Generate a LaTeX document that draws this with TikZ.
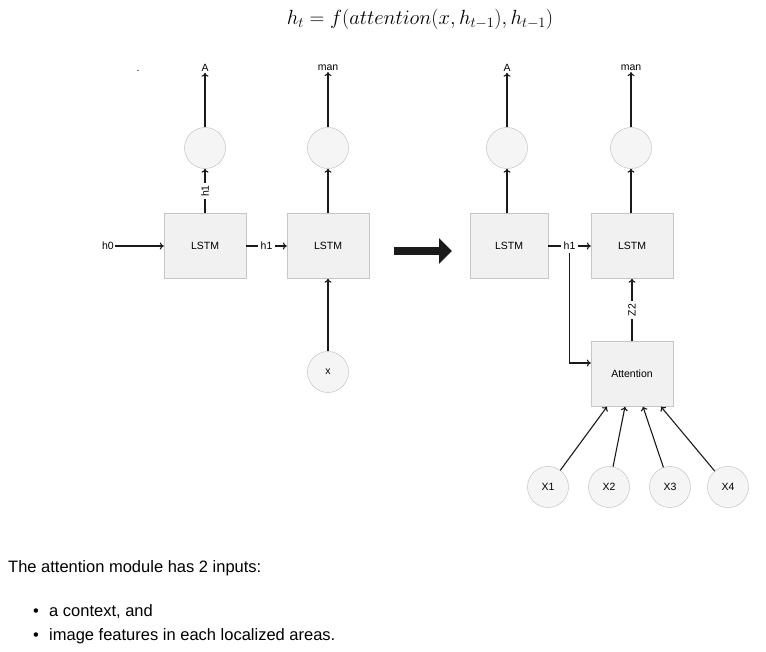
\documentclass[tikz,border=0pt]{standalone}
\usepackage{fix-cm}
\usepackage{fontspec}
\setmainfont{Liberation Sans}
\usepackage{tikz}
\usetikzlibrary{arrows.meta}

\definecolor{boxfill}{HTML}{F1F1F1}
\definecolor{boxline}{HTML}{C6C6C6}
\definecolor{circfill}{HTML}{F5F5F5}
\definecolor{circline}{HTML}{B9B9B9}
\definecolor{ink}{HTML}{1A1A1A}

\begin{document}
\begin{tikzpicture}[x=1pt, y=-1pt]
		\tikzstyle{cell} = [rectangle, draw=boxline, fill=boxfill, minimum width=82pt, minimum height=65pt, inner sep=0pt, font=\fontsize{10.5}{12}\selectfont]
		\tikzstyle{unit} = [circle, draw=circline, fill=circfill, minimum size=41pt, inner sep=0pt, font=\fontsize{10.5}{12}\selectfont]
		\tikzstyle{word} = [inner sep=1pt, font=\fontsize{10.5}{12}\selectfont]
		\tikzstyle{tag} = [fill=white, inner sep=2.5pt, font=\fontsize{10.5}{12}\selectfont]
		\tikzstyle{flow} = [draw=ink, line width=1.1pt, -{To[length=4pt, width=7pt]}]
		\tikzstyle{body} = [inner sep=0pt, anchor=base west, font=\fontsize{16.5}{20}\selectfont]
		
		\useasboundingbox (0,0) rectangle (766,651);
		
		\node [font=\fontsize{20.5}{24}\selectfont] (eq) at (420,19) {$h_t = f(attention(x,h_{t-1}),h_{t-1})$};
		\node [word] (dot) at (138,71) {.};
		
		% before
		\node [cell] (L1) at (205,246) {LSTM};
		\node [cell] (L2) at (328,246) {LSTM};
		\node [unit] (U1) at (205,148) {};
		\node [unit] (U2) at (328,148) {};
		\node [unit] (x) at (328,372) {x};
		\node [word] (A1) at (205,68) {A};
		\node [word] (M1) at (328,68) {man};
		\node [word] (h0) at (108,246) {h0};
		
		\draw [flow] (h0) -- (L1);
		\draw [flow] (L1) -- node [tag] {h1} (L2);
		\draw [flow] (L1) -- node [tag, rotate=90] {h1} (U1);
		\draw [flow] (L2) -- (U2);
		\draw [flow] (x) -- (L2);
		\draw [flow] (U1) -- (A1);
		\draw [flow] (U2) -- (M1);
		
		% big arrow
		\coordinate (go) at (394,251);
		\coordinate (to) at (452,251);
		\draw [ink, line width=8pt, -{Triangle[length=13pt, width=25pt]}] (go) -- (to);
		
		% after
		\node [cell, minimum width=78pt] (L3) at (509,246) {LSTM};
		\node [cell] (L4) at (632,246) {LSTM};
		\node [cell] (Att) at (632,374) {Attention};
		\node [unit] (U3) at (507,148) {};
		\node [unit] (U4) at (631,148) {};
		\node [word] (A2) at (507,68) {A};
		\node [word] (M2) at (631,68) {man};
		
		\draw [flow] (L3) -- node [tag] (h1c) {h1} (L4);
		\draw [flow] (h1c.south) |- ([yshift=11pt]Att.west);
		\draw [flow] (Att) -- node [tag, rotate=90] {Z2} (L4);
		\draw [flow] (L3.north -| U3) -- (U3);
		\draw [flow] (L4.north -| U4) -- (U4);
		\draw [flow] (U3) -- (A2);
		\draw [flow] (U4) -- (M2);
		
		\node [unit] (X1) at (548,487) {X1};
		\node [unit] (X2) at (609,487) {X2};
		\node [unit] (X3) at (670,487) {X3};
		\node [unit] (X4) at (728,487) {X4};
		
		\draw [flow] (X1) -- ([xshift=-25pt]Att.south);
		\draw [flow] (X2) -- ([xshift=-7pt]Att.south);
		\draw [flow] (X3) -- ([xshift=11pt]Att.south);
		\draw [flow] (X4) -- ([xshift=29pt]Att.south);
		
		% text below
		\node [body] (intro) at (8,572) {The attention module has 2 inputs:};
		\node [body] (b1) at (33,616) {\textbullet};
		\node [body] (t1) at (49,616) {a context, and};
		\node [body] (b2) at (33,640) {\textbullet};
		\node [body] (t2) at (49,640) {image features in each localized areas.};
	\end{tikzpicture}
\end{document}
